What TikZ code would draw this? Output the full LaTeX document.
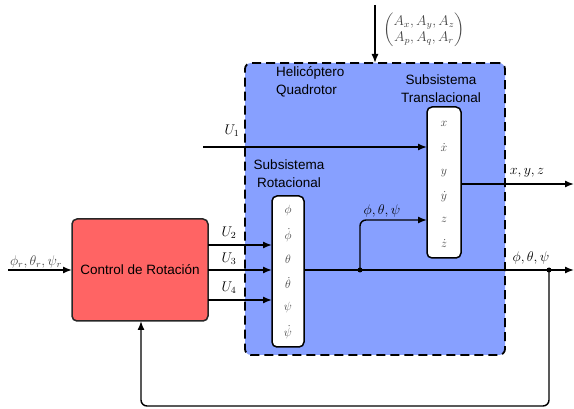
\documentclass[tikz,border=0pt]{standalone}
\usepackage{amsmath}
\usepackage{fontspec}
\setmainfont{Liberation Sans}
\usetikzlibrary{arrows.meta}
\definecolor{heliblue}{RGB}{135,160,255}
\definecolor{ctrlred}{RGB}{255,100,100}
\definecolor{lblgray}{RGB}{70,70,70}
\newcommand{\mlarge}[1]{\scalebox{1.17}{$#1$}}
\begin{document}
\begin{tikzpicture}[x=1pt,y=-1pt,
  arr/.style={line width=1.4pt,-{Latex[length=9pt,width=7pt]}},
  txt/.style={font=\fontsize{13.5}{18}\selectfont, align=center, inner sep=0pt},
  mlbl/.style={font=\fontsize{12}{14}\selectfont, inner sep=0pt},
  inlbl/.style={font=\fontsize{12}{14}\selectfont, text=lblgray, inner sep=0pt},
  subbox/.style={draw, fill=white, line width=1.5pt, rounded corners=5pt, inner sep=0pt, outer sep=0pt},
  dotnode/.style={circle, fill, inner sep=0pt, minimum size=5pt}]
\useasboundingbox (0,0) rectangle (574,409);

% system box
\node (heli) [draw, fill=heliblue, line width=1.8pt, dash pattern=on 9pt off 5pt,
  rounded corners=6pt, minimum width=260pt, minimum height=292pt, inner sep=0pt, outer sep=0pt] at (375,209) {};
\node (helitxt) [txt, align=left, anchor=north west] at (276,66) {Helicóptero\\Quadrotor};
\node (transtxt) [txt] at (441,89) {Subsistema\\Translacional};
\node (rottxt) [txt] at (289,174) {Subsistema\\Rotacional};

% control block
\node (ctrl) [draw=black!85, fill=ctrlred, line width=1.5pt, rounded corners=5pt,
  minimum width=136pt, minimum height=102pt, inner sep=0pt, outer sep=0pt,
  font=\fontsize{13.5}{16}\selectfont] at (140,270) {Control de Rotación};

% subsystem boxes
\node (rot) [subbox, minimum width=32pt, minimum height=151pt] at (288,271.5) {};
\node (trans) [subbox, minimum width=34pt, minimum height=151pt] at (444,182.5) {};

% rotational states
\node (r1) [inlbl] at (288,211) {$\phi$};
\node (r2) [inlbl] at (288,235) {$\dot\phi$};
\node (r3) [inlbl] at (288,259) {$\theta$};
\node (r4) [inlbl] at (288,283) {$\dot\theta$};
\node (r5) [inlbl] at (288,308) {$\psi$};
\node (r6) [inlbl] at (288,332) {$\dot\psi$};

% translational states
\node (t1) [inlbl] at (444,124) {$x$};
\node (t2) [inlbl] at (444,148) {$\dot x$};
\node (t3) [inlbl] at (444,173) {$y$};
\node (t4) [inlbl] at (444,197) {$\dot y$};
\node (t5) [inlbl] at (444,220) {$z$};
\node (t6) [inlbl] at (444,244) {$\dot z$};

% coordinates
\coordinate (inS) at (8,270);
\coordinate (u1S) at (203,147);
\coordinate (u2row) at (0,245);
\coordinate (u3row) at (0,270);
\coordinate (u4row) at (0,300);
\coordinate (outE) at (574,270);
\coordinate (xyzE) at (574,184);
\coordinate (zrow) at (0,220);
\coordinate (fb) at (141,406);
\coordinate (aTop) at (375,5);

% junctions
\node (j1) [dotnode] at (360,270) {};
\node (j2) [dotnode] at (549,270) {};

% connectors
\draw[arr] (inS) -- (ctrl.west |- inS);
\draw[arr] (u1S) -- (trans.west |- u1S);
\draw[arr] (ctrl.east |- u2row) -- (rot.west |- u2row);
\draw[arr] (ctrl.east |- u3row) -- (rot.west |- u3row);
\draw[arr] (ctrl.east |- u4row) -- (rot.west |- u4row);
\draw[arr] (rot.east |- outE) -- (outE);
\draw[arr, rounded corners=6pt] (j1.center) |- (trans.west |- zrow);
\draw[arr] (trans.east |- xyzE) -- (xyzE);
\draw[arr, rounded corners=6pt] (j2.center) |- (fb) -- (fb |- ctrl.south);
\draw[arr] (aTop) -- (heli.north);

% labels
\node (lin) [mlbl, text=lblgray] at (36,262) {\mlarge{\phi_r,\theta_r,\psi_r}};
\node (lu1) [mlbl] at (232,131) {\mlarge{U_1}};
\node (lu2) [mlbl] at (229,233) {\mlarge{U_2}};
\node (lu3) [mlbl] at (229,259) {\mlarge{U_3}};
\node (lu4) [mlbl] at (229,288) {\mlarge{U_4}};
\node (lb1) [mlbl] at (382,211) {\mlarge{\phi,\theta,\psi}};
\node (lxyz) [mlbl] at (527,173) {\mlarge{x,y,z}};
\node (lb2) [mlbl] at (531,258) {\mlarge{\phi,\theta,\psi}};
\node (lA) [mlbl, text=lblgray] at (424,30) {\mlarge{\begin{pmatrix} A_x,A_y,A_z\\ A_p,A_q,A_r\end{pmatrix}}};
\end{tikzpicture}
\end{document}
